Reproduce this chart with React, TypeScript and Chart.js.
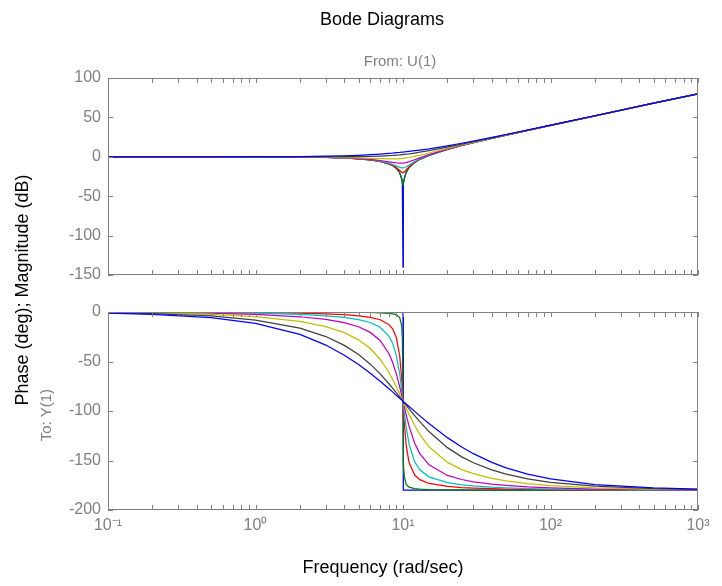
import React, { useEffect, useRef } from 'react';
import { Chart, registerables } from 'chart.js';

Chart.register(...registerables);

// Frequency grid (rad/sec); 10 appears twice so the undamped phase can jump vertically
const freq = [0.1, 0.2, 0.5, 1, 2, 3, 4, 5, 6, 7, 8, 8.5, 9, 9.5, 9.8, 9.9, 10, 10, 10.1, 10.2, 10.5, 11, 12, 13, 15, 20, 25, 30, 40, 50, 70, 100, 200, 500, 1000];

const seriesNames = ['zeta=0', 'zeta=0.005', 'zeta=0.05', 'zeta=0.1', 'zeta=0.2', 'zeta=0.4', 'zeta=0.7', 'zeta=1'];
const seriesColors = ['#0000ff', '#008000', '#ff0000', '#00bfbf', '#bf00bf', '#bfbf00', '#404040', '#0000ff'];

// Magnitude (dB)
const mag0 = [0, 0, 0, -0.1, -0.4, -0.8, -1.5, -2.5, -3.9, -5.8, -8.9, -11.1, -14.4, -20.2, -28.1, -34.0, -140, -140, -33.9, -27.9, -19.8, -13.6, -7.1, -3.2, 1.9, 9.5, 14.4, 18.1, 23.5, 27.6, 33.6, 39.9, 52.0, 68.0, 80.0];
const mag1 = [0, 0, 0, -0.1, -0.4, -0.8, -1.5, -2.5, -3.9, -5.8, -8.9, -11.1, -14.4, -20.2, -27.8, -33.1, -36, -36, -33.0, -27.6, -19.7, -13.5, -7.1, -3.2, 1.9, 9.5, 14.4, 18.1, 23.5, 27.6, 33.6, 39.9, 52.0, 68.0, 80.0];
const mag2 = [0, 0, 0, -0.1, -0.4, -0.8, -1.5, -2.5, -3.8, -5.8, -8.7, -10.8, -13.6, -17.3, -19.5, -19.9, -20, -20, -19.8, -19.2, -16.7, -12.5, -6.8, -3.1, 2.0, 9.6, 14.4, 18.1, 23.5, 27.6, 33.6, 39.9, 52.0, 68.0, 80.0];
const mag3 = [0, 0, 0, -0.1, -0.4, -0.8, -1.5, -2.4, -3.7, -5.5, -8.1, -9.8, -11.6, -13.4, -14.0, -14.0, -14.0, -14.0, -13.9, -13.6, -12.6, -10.3, -6.0, -2.7, 2.2, 9.6, 14.4, 18.1, 23.5, 27.6, 33.6, 39.9, 52.0, 68.0, 80.0];
const mag4 = [0, 0, 0, -0.1, -0.3, -0.7, -1.4, -2.2, -3.3, -4.7, -6.4, -7.2, -7.8, -8.1, -8.1, -8.0, -8.0, -8.0, -7.9, -7.7, -7.3, -6.2, -3.7, -1.3, 2.8, 9.8, 14.6, 18.2, 23.6, 27.6, 33.6, 39.9, 52.0, 68.0, 80.0];
const mag5 = [0, 0, 0, -0.1, -0.2, -0.5, -0.9, -1.4, -1.9, -2.4, -2.7, -2.7, -2.6, -2.3, -2.1, -2.0, -1.9, -1.9, -1.9, -1.8, -1.5, -0.9, 0.5, 1.9, 4.8, 10.6, 15.0, 18.4, 23.7, 27.7, 33.7, 39.9, 52.0, 68.0, 80.0];
const mag6 = [0, 0, 0, 0, 0, 0, 0.1, 0.2, 0.5, 0.9, 1.4, 1.7, 2.1, 2.5, 2.8, 2.8, 2.9, 2.9, 3.0, 3.1, 3.4, 3.8, 4.8, 5.8, 7.8, 12.3, 16.0, 19.1, 24.1, 28.0, 33.8, 40.0, 52.0, 68.0, 80.0];
const mag7 = [0, 0, 0, 0.1, 0.3, 0.8, 1.3, 1.9, 2.7, 3.5, 4.3, 4.7, 5.2, 5.6, 5.9, 5.9, 6.0, 6.0, 6.1, 6.2, 6.5, 6.9, 7.8, 8.6, 10.2, 14.0, 17.2, 20.0, 24.6, 28.3, 34.0, 40.1, 52.1, 68.0, 80.0];

// Phase (deg)
const ph0 = [0, 0, 0, 0, 0, 0, 0, 0, 0, 0, 0, 0, 0, 0, 0, 0, 0, -180, -180, -180, -180, -180, -180, -180, -180, -180, -180, -180, -180, -180, -180, -180, -180, -180, -180];
const ph1 = [0, 0, 0, -0.1, -0.1, -0.2, -0.3, -0.4, -0.5, -0.8, -1.3, -1.8, -2.7, -5.6, -13.9, -26.5, -90, -90, -153.3, -165.8, -174.2, -177.0, -178.4, -178.9, -179.3, -179.6, -179.7, -179.8, -179.9, -179.9, -179.9, -179.9, -180, -180, -180];
const ph2 = [-0.1, -0.1, -0.3, -0.6, -1.2, -1.9, -2.7, -3.8, -5.4, -7.8, -12.5, -17.0, -25.4, -44.3, -68.0, -78.6, -90, -90, -101.3, -111.6, -134.3, -152.4, -164.7, -169.3, -173.2, -176.2, -177.3, -177.9, -178.5, -178.8, -179.2, -179.4, -179.7, -179.9, -179.9];
const ph3 = [-0.1, -0.2, -0.6, -1.2, -2.4, -3.8, -5.4, -7.6, -10.6, -15.4, -24.0, -31.5, -43.5, -62.8, -78.6, -84.3, -90, -90, -95.7, -101.2, -116.0, -133.7, -151.4, -159.4, -166.5, -172.4, -174.6, -175.7, -177.0, -177.6, -178.3, -178.8, -179.4, -179.8, -179.9];
const ph4 = [-0.2, -0.5, -1.2, -2.3, -4.8, -7.5, -10.8, -14.9, -20.6, -28.8, -41.6, -50.8, -62.2, -75.6, -84.2, -87.1, -90, -90, -92.9, -95.7, -103.7, -115.5, -132.5, -143.0, -154.4, -165.1, -169.2, -171.5, -173.9, -175.2, -176.7, -177.7, -178.9, -179.5, -179.8];
const ph5 = [-0.5, -0.9, -2.3, -4.6, -9.5, -14.8, -20.9, -28.1, -36.9, -47.7, -60.6, -67.8, -75.2, -82.7, -87.1, -88.6, -90, -90, -91.4, -92.8, -97.0, -103.4, -114.6, -123.6, -136.2, -151.9, -159.2, -163.3, -168.0, -170.5, -173.4, -175.4, -177.7, -179.1, -179.5];
const ph6 = [-0.8, -1.6, -4.0, -8.1, -16.3, -24.8, -33.7, -43.0, -52.7, -62.5, -72.2, -76.9, -81.4, -85.8, -88.4, -89.2, -90, -90, -90.8, -91.6, -94.0, -97.8, -104.7, -110.8, -120.8, -137.0, -146.3, -152.3, -159.5, -163.7, -168.5, -172.0, -176.0, -178.4, -179.2];
const ph7 = [-1.1, -2.3, -5.7, -11.4, -22.6, -33.4, -43.6, -53.1, -61.9, -70.0, -77.3, -80.7, -84.0, -87.1, -88.8, -89.4, -90, -90, -90.6, -91.1, -92.8, -95.5, -100.4, -104.9, -112.6, -126.9, -136.4, -143.1, -151.9, -157.4, -163.7, -168.6, -174.3, -177.7, -178.9];

const magSeries = [mag0, mag1, mag2, mag3, mag4, mag5, mag6, mag7];
const phaseSeries = [ph0, ph1, ph2, ph3, ph4, ph5, ph6, ph7];

// Axes ticks
const magTicks = [-150, -100, -50, 0, 50, 100];
const phaseTicks = [-200, -150, -100, -50, 0];
const freqTicks = [0.1, 1, 10, 100, 1000];
const freqTickLabels = ['10\u207B\u00B9', '10\u2070', '10\u00B9', '10\u00B2', '10\u00B3'];

const FONT = "'Liberation Sans', Arial, Helvetica, sans-serif";
const AXIS = '#808080';
const TICK_LEN = 5;

const frameTicks = {
  id: 'frameTicks',
  afterDatasetsDraw(chart: any) {
    const { ctx, chartArea: a, scales } = chart;
    const xs = scales.x;
    const ys = scales.y;
    const yVals: number[] = chart.options.plugins.frameTicks.yValues;
    ctx.save();
    ctx.strokeStyle = AXIS;
    ctx.lineWidth = 1;
    ctx.beginPath();
    for (let d = -1; d <= 3; d++) {
      for (let m = 1; m <= 9; m++) {
        const v = m * Math.pow(10, d);
        if (v > 1000.001) break;
        const px = Math.round(xs.getPixelForValue(v)) + 0.5;
        ctx.moveTo(px, a.top);
        ctx.lineTo(px, a.top + TICK_LEN);
        ctx.moveTo(px, a.bottom);
        ctx.lineTo(px, a.bottom - TICK_LEN);
      }
    }
    for (const v of yVals) {
      const py = Math.round(ys.getPixelForValue(v)) + 0.5;
      ctx.moveTo(a.left, py);
      ctx.lineTo(a.left + TICK_LEN, py);
      ctx.moveTo(a.right, py);
      ctx.lineTo(a.right - TICK_LEN, py);
    }
    ctx.stroke();
    ctx.strokeRect(Math.round(a.left) + 0.5, Math.round(a.top) + 0.5, Math.round(a.right - a.left) - 1, Math.round(a.bottom - a.top) - 1);
    ctx.restore();
  },
};

function buildDatasets(series: number[][]) {
  return series.map((vals, i) => ({
    label: seriesNames[i],
    data: freq.map((f, j) => ({ x: f, y: vals[j] })),
    borderColor: seriesColors[i],
    backgroundColor: seriesColors[i],
    borderWidth: 1.25,
    pointRadius: 0,
    fill: false,
    tension: 0,
    order: series.length - 1 - i,
  }));
}

function BodePanel(props: { which: 'mag' | 'phase'; top: number; height: number }) {
  const ref = useRef<HTMLCanvasElement | null>(null);
  useEffect(() => {
    const canvas = ref.current;
    if (!canvas) return;
    const isMag = props.which === 'mag';
    const yTicks = isMag ? magTicks : phaseTicks;
    const chart = new Chart(canvas, {
      type: 'line',
      data: { datasets: buildDatasets(isMag ? magSeries : phaseSeries) as any },
      options: {
        animation: false,
        responsive: false,
        maintainAspectRatio: false,
        events: [],
        layout: { padding: isMag ? { left: 0, right: 24, top: 78, bottom: 25 } : { left: 0, right: 24, top: 22, bottom: 0 } },
        plugins: {
          legend: { display: false },
          tooltip: { enabled: false },
          frameTicks: { yValues: yTicks },
        } as any,
        scales: {
          x: {
            type: 'logarithmic',
            min: 0.1,
            max: 1000,
            display: !isMag,
            grid: { display: false, drawTicks: false },
            border: { display: false },
            afterBuildTicks: (s: any) => {
              s.ticks = freqTicks.map((v) => ({ value: v }));
            },
            afterFit: (s: any) => {
              s.height = isMag ? 0 : 76;
            },
            ticks: {
              color: AXIS,
              font: { family: FONT, size: 16 },
              padding: 6,
              maxRotation: 0,
              autoSkip: false,
              callback: (_v: any, i: number) => freqTickLabels[i],
            },
          },
          y: {
            type: 'linear',
            min: isMag ? -150 : -200,
            max: isMag ? 100 : 0,
            grid: { display: false, drawTicks: false },
            border: { display: false },
            afterBuildTicks: (s: any) => {
              s.ticks = yTicks.map((v) => ({ value: v }));
            },
            afterFit: (s: any) => {
              s.width = 108;
            },
            ticks: {
              color: AXIS,
              font: { family: FONT, size: 16 },
              padding: 7,
              callback: (v: any) => String(v),
            },
          },
        } as any,
      },
      plugins: [frameTicks],
    });
    return () => chart.destroy();
  }, [props.which]);
  return (
    <canvas
      ref={ref}
      width={722}
      height={props.height}
      style={{ position: 'absolute', left: 0, top: props.top, width: 722, height: props.height }}
    />
  );
}

const textBase: React.CSSProperties = {
  position: 'absolute',
  fontFamily: FONT,
  whiteSpace: 'nowrap',
  lineHeight: 1,
  transform: 'translate(-50%, -50%)',
};

export default function App() {
  return (
    <div style={{ position: 'absolute', left: 0, top: 0, width: 722, height: 586, background: '#ffffff', overflow: 'hidden' }}>
      <BodePanel which="mag" top={0} height={300} />
      <BodePanel which="phase" top={290} height={296} />
      <div style={{ ...textBase, left: 382, top: 19, fontSize: 18, color: '#000' }}>Bode Diagrams</div>
      <div style={{ ...textBase, left: 400, top: 60, fontSize: 15, color: AXIS }}>From: U(1)</div>
      <div style={{ ...textBase, left: 383, top: 567, fontSize: 18, color: '#000' }}>Frequency (rad/sec)</div>
      <div style={{ ...textBase, left: 22, top: 290, fontSize: 18, color: '#000', transform: 'translate(-50%, -50%) rotate(-90deg)' }}>
        Phase (deg); Magnitude (dB)
      </div>
      <div style={{ ...textBase, left: 45, top: 415, fontSize: 15, color: AXIS, transform: 'translate(-50%, -50%) rotate(-90deg)' }}>
        To: Y(1)
      </div>
    </div>
  );
}
